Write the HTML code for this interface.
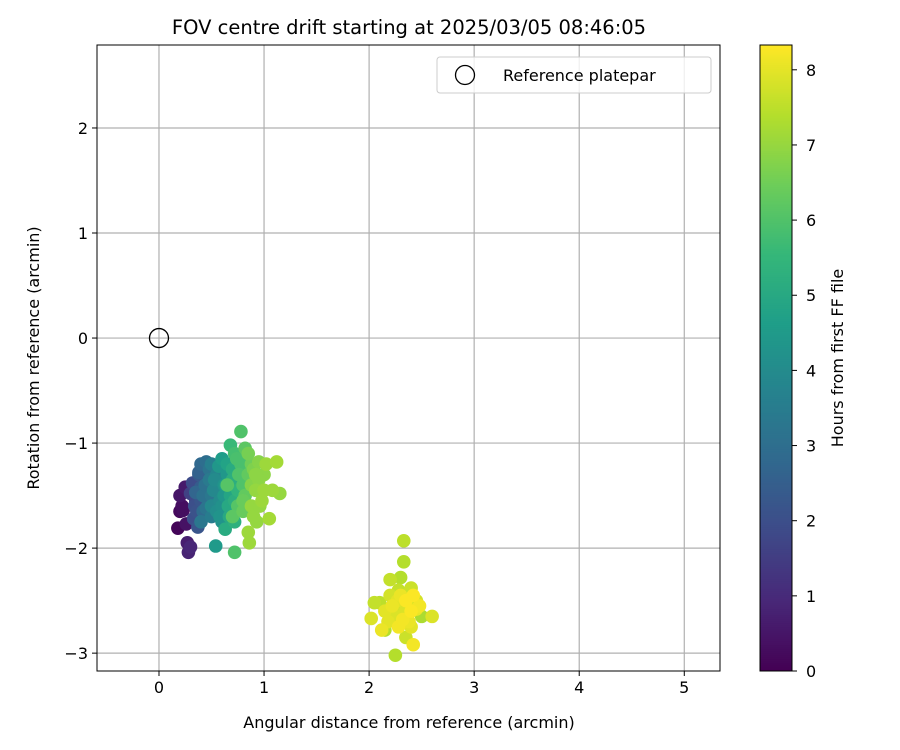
<!DOCTYPE html>
<html><head><meta charset="utf-8"><style>body{margin:0;background:#fff}svg{display:block;font-family:"DejaVu Sans","Liberation Sans",sans-serif}</style></head>
<body>
<svg id="c" width="900" height="750"></svg>
<script>
const xs=[0.18,0.2,0.23,0.2,0.25,0.27,0.28,0.3,0.26,0.22,
0.3,0.35,0.33,0.36,0.38,0.4,0.37,0.32,0.34,0.4,
0.38,0.4,0.45,0.42,0.45,0.4,0.48,0.5,0.35,0.47,0.44,0.5,0.42,0.48,
0.5,0.55,0.52,0.58,0.55,0.6,0.62,0.57,0.6,0.65,0.54,0.53,0.58,0.62,0.5,
0.6,0.65,0.68,0.7,0.63,0.7,0.72,0.66,0.75,0.7,0.64,0.72,0.67,
0.68,0.72,0.78,0.8,0.75,0.82,0.78,0.72,0.85,0.8,0.7,0.88,0.65,0.76,0.82,0.74,0.8,
0.85,0.9,0.95,1.0,0.92,0.88,0.85,0.86,0.93,1.05,1.08,1.15,1.12,0.98,0.9,0.95,1.02,0.88,0.96,1.0,0.92,
2.33,2.33,2.3,2.2,2.28,2.1,2.05,2.15,2.25,2.5,2.6,2.02,2.2,2.3,2.35,2.4,2.45,2.25,2.35,2.4,2.42,2.38,2.15,2.3,2.42,2.18,2.28,2.48,2.12,2.35,2.22,2.4,2.27,2.32,2.45];
const ys=[-1.81,-1.65,-1.64,-1.5,-1.42,-1.95,-2.04,-1.99,-1.77,-1.6,
-1.48,-1.55,-1.72,-1.65,-1.3,-1.42,-1.8,-1.38,-1.6,-1.55,
-1.28,-1.2,-1.18,-1.5,-1.62,-1.75,-1.35,-1.7,-1.47,-1.55,-1.4,-1.5,-1.65,-1.25,
-1.2,-1.3,-1.45,-1.55,-1.65,-1.75,-1.4,-1.22,-1.6,-1.3,-1.98,-1.35,-1.7,-1.5,-1.6,
-1.15,-1.2,-1.5,-1.62,-1.82,-1.35,-1.75,-1.6,-1.45,-1.25,-1.4,-1.55,-1.7,
-1.02,-1.1,-1.2,-1.4,-1.6,-1.05,-0.89,-2.04,-1.3,-1.55,-1.7,-1.2,-1.4,-1.3,-1.5,-1.15,-1.65,
-1.1,-1.25,-1.18,-1.3,-1.45,-1.6,-1.85,-1.95,-1.75,-1.72,-1.45,-1.48,-1.18,-1.55,-1.7,-1.35,-1.2,-1.4,-1.6,-1.45,-1.3,
-1.93,-2.13,-2.28,-2.3,-2.4,-2.52,-2.52,-2.78,-3.02,-2.65,-2.65,-2.67,-2.45,-2.55,-2.6,-2.38,-2.5,-2.65,-2.85,-2.75,-2.92,-2.7,-2.6,-2.45,-2.45,-2.7,-2.75,-2.55,-2.78,-2.5,-2.55,-2.6,-2.5,-2.68,-2.58];
const hours=[0.1,0.2,0.3,0.5,0.6,0.7,0.8,0.9,0.4,0.3,
1.6,1.8,2.0,2.1,2.3,2.4,2.2,1.9,2.0,2.2,
2.6,2.8,3.0,3.1,3.2,3.3,3.4,3.5,2.7,3.0,3.1,3.3,2.9,3.2,
3.6,3.8,3.9,4.0,4.1,4.2,4.3,4.4,4.2,4.4,4.5,4.0,4.3,4.4,3.9,
4.6,4.8,4.9,5.0,5.1,5.2,5.3,5.0,5.4,5.1,4.8,5.2,5.0,
5.6,5.8,5.9,6.0,6.1,6.2,6.0,6.0,6.3,6.4,6.2,6.5,6.1,6.0,6.3,5.9,6.4,
6.6,6.7,6.8,6.9,7.0,7.0,7.1,7.1,7.0,7.2,7.1,7.0,7.2,7.1,7.0,6.9,7.1,6.8,7.0,7.1,6.9,
7.5,7.4,7.4,7.6,7.6,7.5,7.6,7.4,7.4,7.3,7.9,7.9,7.8,7.8,7.9,7.7,7.8,7.9,7.7,8.0,8.2,8.1,8.0,8.1,8.3,8.0,8.2,8.2,8.1,8.3,8.1,8.3,8.0,8.2,8.1];
const xTicks=[0,1,2,3,4,5];
const yTicks=[-3,-2,-1,0,1,2];
const cTicks=[0,1,2,3,4,5,6,7,8];
const X0=97,X1=720,Y0=45,Y1=671,xmin=-0.59,xmax=5.34,ymin=-3.17,ymax=2.79,hmax=8.33;
const sx=v=>X0+(v-xmin)/(xmax-xmin)*(X1-X0);
const sy=v=>Y1-(v-ymin)/(ymax-ymin)*(Y1-Y0);
const sc=v=>671-v/hmax*626;
const vir=[[68,1,84],[72,40,120],[62,74,137],[49,104,142],[38,130,142],[31,158,137],[53,183,121],[109,205,89],[180,222,44],[253,231,37]];
function cmap(t){t=Math.max(0,Math.min(1,t))*9;const i=Math.min(8,Math.floor(t)),f=t-i,a=vir[i],b=vir[i+1];
return `rgb(${a.map((v,k)=>Math.round(v+(b[k]-v)*f)).join(',')})`;}
const svg=document.getElementById('c'),NS='http://www.w3.org/2000/svg';
function el(t,at,p){const e=document.createElementNS(NS,t);for(const k in at)e.setAttribute(k,at[k]);(p||svg).appendChild(e);return e;}
function tx(s,at){const e=el('text',at);e.textContent=s;return e;}
let t=tx('FOV centre drift starting at 2025/03/05 08:46:05',{x:409,y:34,'text-anchor':'middle','font-size':19.5});


const grid=el('g',{});


xTicks.forEach(v=>{const x=sx(v);el('line',{x1:x,x2:x,y1:Y0,y2:Y1,stroke:'#b0b0b0','stroke-width':1.2},grid);
el('line',{x1:x,x2:x,y1:Y1,y2:Y1+5,stroke:'#000'});
const l=tx(String(v),{x:x,y:Y1+22,'text-anchor':'middle','font-size':16});

});
yTicks.forEach(v=>{const y=sy(v);el('line',{x1:X0,x2:X1,y1:y,y2:y,stroke:'#b0b0b0','stroke-width':1.2},grid);
el('line',{x1:X0-5,x2:X0,y1:y,y2:y,stroke:'#000'});
const l=tx(v<0?'\u2212'+(-v):String(v),{x:X0-9,y:y+6,'text-anchor':'end','font-size':16});

});
const pts=el('g',{});


const idx=xs.map((_,i)=>i).sort((a,b)=>hours[a]-hours[b]);
idx.forEach(i=>{const c=el('circle',{cx:sx(xs[i]),cy:sy(ys[i]),r:6.8,fill:cmap(hours[i]/hmax)},pts);

});
const ref=el('circle',{cx:sx(0),cy:sy(0),r:9.5,fill:'none',stroke:'#000','stroke-width':1.3});


el('rect',{x:X0,y:Y0,width:X1-X0,height:Y1-Y0,fill:'none',stroke:'#000','stroke-width':1});
const lg=el('g',{});


el('rect',{x:437,y:57,width:274,height:36,rx:3,fill:'#fff','fill-opacity':0.8,stroke:'#ccc'},lg);
el('circle',{cx:465,cy:75,r:9.5,fill:'none',stroke:'#000','stroke-width':1.3},lg);
const lt=el('text',{x:503,y:81,'font-size':16},lg);lt.textContent='Reference platepar';
t=tx('Angular distance from reference (arcmin)',{x:409,y:728,'text-anchor':'middle','font-size':16});


t=tx('Rotation from reference (arcmin)',{x:0,y:0,'text-anchor':'middle','font-size':16,transform:'translate(39,358) rotate(-90)'});


const cb=el('g',{});


for(let k=0;k<313;k++){el('rect',{x:760,y:671-(k+1)*2,width:32,height:2.3,fill:cmap(k/312)},cb);}
el('rect',{x:760,y:45,width:32,height:626,fill:'none',stroke:'#000','stroke-width':1},cb);
cTicks.forEach(v=>{const y=sc(v);el('line',{x1:792,x2:797,y1:y,y2:y,stroke:'#000'},cb);
const l=tx(String(v),{x:806,y:y+6,'font-size':16});

});
t=tx('Hours from first FF file',{x:0,y:0,'text-anchor':'middle','font-size':16,transform:'translate(843,358) rotate(-90)'});


</script>
</body></html>
